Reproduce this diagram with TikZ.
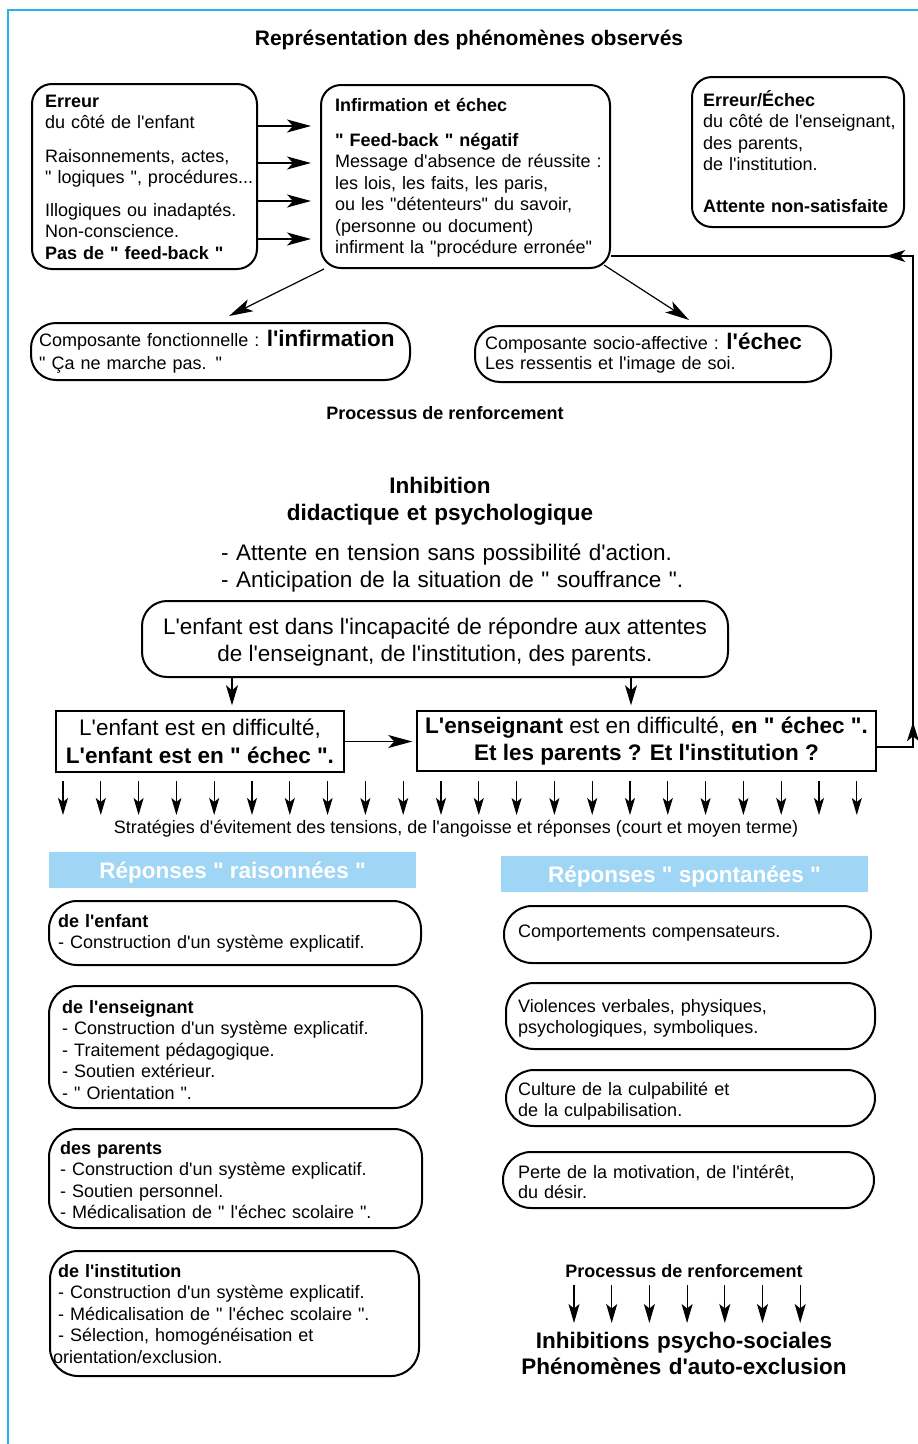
\documentclass[tikz,border=0pt]{standalone}
\usepackage{fontspec}
\setmainfont{Liberation Sans}[Ligatures=TeXOff]
\usetikzlibrary{arrows.meta,decorations.markings,calc}
\definecolor{framebl}{RGB}{40,180,235}
\definecolor{headbl}{RGB}{160,214,245}
\newcommand\fsA{\fontsize{18}{21.5}\selectfont}
\newcommand\fsB{\fontsize{22.5}{27.5}\selectfont}
\newcommand\fsT{\fontsize{21}{25}\selectfont}
\begin{document}
\begin{tikzpicture}[x=1pt,y=-1pt,
  rbox/.style={draw, line width=2pt, rounded corners=20pt, inner sep=0pt},
  sbox/.style={draw, line width=1.5pt, inner sep=0pt, font=\fsB, align=center},
  txt/.style={anchor=base west, align=left, inner sep=0pt, font=\fsA},
  ctxt/.style={anchor=base, align=center, inner sep=0pt},
  head/.style={fill=headbl, inner sep=0pt, text=white, font=\fsB\bfseries, text height=16pt, text depth=0pt},
  arr/.style={line width=1.2pt, -{Stealth[length=24pt,width=13pt,inset=6pt]}},
  arrM/.style={line width=1.2pt, -{Stealth[length=20pt,width=12pt,inset=5pt]}},
  arrD/.style={line width=1.2pt, -{Stealth[length=17pt,width=10pt,inset=4pt]}},
  arrB/.style={line width=1.2pt, -{Stealth[length=19pt,width=11pt,inset=4.5pt]}},
  fb/.style={line width=1.2pt, postaction={decorate}, decoration={markings,
     mark=at position 61pt with {\arrow{Stealth[length=19pt,width=12pt,inset=5pt]}},
     mark=at position 554pt with {\arrow{Stealth[length=19pt,width=12pt,inset=5pt]}}}}
]
\useasboundingbox (0,0) rectangle (918,1444);
% frame
\draw[framebl, line width=2pt] (918,10) -- (8,10) -- (8,1444);
% title
\node[ctxt, font=\fsT\bfseries] (title) at (469,45) {Représentation des phénomènes observés};

% top boxes
\node[rbox, minimum width=225pt, minimum height=185pt] (err) at (144.5,176.5) {};
\node[txt, text width=212pt] (errT) at (45,107) {\textbf{Erreur}\\du côté de l'enfant\\[12pt]Raisonnements, actes,\\" logiques ", procédures...\\[11pt]Illogiques ou inadaptés.\\Non-conscience.\\\textbf{Pas de " feed-back "}};

\node[rbox, minimum width=289pt, minimum height=183pt] (inf) at (465.5,176.5) {};
\node[txt, text width=290pt] (infT) at (335,111) {\textbf{Infirmation et échec}\\[13.5pt]\textbf{" Feed-back " négatif}\\Message d'absence de réussite :\\les lois, les faits, les paris,\\ou les "détenteurs" du savoir,\\(personne ou document)\\infirment la "procédure erronée"};

\node[rbox, minimum width=212pt, minimum height=150pt] (errE) at (798,152) {};
\node[txt, text width=205pt] (errET) at (703,106) {\textbf{Erreur/Échec}\\du côté de l'enseignant,\\des parents,\\de l'institution.\\[20.5pt]\textbf{Attente non-satisfaite}};

\foreach \dy in {50.5,13.5,-24.5,-62.5}
  \draw[arr, shorten >=9pt] ([yshift=\dy pt]err.east) -- ([yshift=\dy pt]inf.west);

% components
\node[rbox, rounded corners=25pt, minimum width=379pt, minimum height=57pt] (compL) at (220.5,351.5) {};
\node[txt, text width=370pt] (compLT) at (39,346) {Composante fonctionnelle :\hspace{-1.5pt} {\fsB\bfseries l'infirmation}\\[1.5pt]" Ça ne marche pas. "};
\node[rbox, rounded corners=25pt, minimum width=356pt, minimum height=56pt] (compR) at (653,354) {};
\node[txt, text width=345pt] (compRT) at (485,349) {Composante socio-affective :\hspace{-1.5pt} {\fsB\bfseries l'échec}\\[-1.5pt]Les ressentis et l'image de soi.};

\draw[arr] ([xshift=4pt]inf.south west) -- ([xshift=8.5pt,yshift=6pt]compL.north);
\draw[arr] ([xshift=-7pt,yshift=4pt]inf.south east) -- ([xshift=36pt,yshift=5pt]compR.north);

\node[ctxt, font=\fsA\bfseries] (proc1) at (445,419) {Processus de renforcement};

\node[ctxt, font=\fsB\bfseries, text width=420pt] (inhib) at (440,493) {Inhibition\\[-0.5pt]didactique et psychologique};
\node[txt, font=\fsB, text width=480pt] (att) at (221,560) {- Attente en tension sans possibilité d'action.\\- Anticipation de la situation de " souffrance ".};

% big box
\node[rbox, rounded corners=25pt, minimum width=586pt, minimum height=76pt, font=\fsB, align=center] (big) at (435,639) {\rule{0pt}{23pt}L'enfant est dans l'incapacité de répondre aux attentes\\de l'enseignant, de l'institution, des parents.};

\node[sbox, minimum width=288pt, minimum height=61pt] (enfR) at (200,741.5) {L'enfant est en difficulté,\\\textbf{L'enfant est en " échec ".}};
\node[sbox, minimum width=459pt, minimum height=60pt] (ensR) at (646.5,741) {\textbf{L'enseignant} est en difficulté, \textbf{en " échec ".}\\\textbf{Et les parents ? Et l'institution ?}};

\draw[arrM, shorten >=5pt] ([xshift=-203pt]big.south) -- ([xshift=-203pt]big.south |- enfR.north);
\draw[arrM, shorten >=5pt] ([xshift=196pt]big.south) -- ([xshift=196pt]big.south |- ensR.north);
\draw[arr, shorten >=4pt] (enfR.east) -- (enfR.east -| ensR.west);

% feedback loop
\coordinate (fbTop) at (913,256);
\draw[fb] ([yshift=-6pt]ensR.east) -| (fbTop) -- ([yshift=-79.5pt]inf.east);

% row of arrows
\foreach \i in {0,...,21}
  \draw[arrD] ({63+37.8*\i},781) -- ({63+37.8*\i},815);
\node[ctxt, font=\fsA] (strat) at (456,833) {Stratégies d'évitement des tensions, de l'angoisse et réponses (court et moyen terme)};

% headers
\node[head, minimum width=367pt, minimum height=36pt] (hRai) at (232.5,870) {Réponses " raisonnées "};
\node[head, minimum width=367pt, minimum height=36pt] (hSpo) at (684.5,874) {Réponses " spontanées "};

% left column
\node[rbox, rounded corners=28pt, minimum width=372pt, minimum height=64pt] (dEnf) at (235,933) {};
\node[txt, text width=355pt] (dEnfT) at (58,927) {\textbf{de l'enfant}\\- Construction d'un système explicatif.};
\node[rbox, rounded corners=28pt, minimum width=373pt, minimum height=122pt] (dEns) at (235.5,1047) {};
\node[txt, text width=355pt] (dEnsT) at (62,1013) {\textbf{de l'enseignant}\\- Construction d'un système explicatif.\\- Traitement pédagogique.\\- Soutien extérieur.\\- " Orientation ".};
\node[rbox, rounded corners=28pt, minimum width=373pt, minimum height=99pt] (dPar) at (235.5,1178.5) {};
\node[txt, text width=355pt] (dParT) at (60,1154) {\textbf{des parents}\\- Construction d'un système explicatif.\\- Soutien personnel.\\- Médicalisation de " l'échec scolaire ".};
\node[rbox, rounded corners=28pt, minimum width=369pt, minimum height=125pt] (dIns) at (234.5,1313.5) {};
\node[txt, text width=355pt] (dInsT) at (58,1277) {\textbf{de l'institution}\\- Construction d'un système explicatif.\\- Médicalisation de " l'échec scolaire ".\\- Sélection, homogénéisation et\\\hspace*{-5pt}orientation/exclusion.};

% right column
\node[rbox, rounded corners=28pt, minimum width=367pt, minimum height=57pt] (cComp) at (687.5,934.5) {};
\node[txt, text width=340pt] (cCompT) at (518,937) {Comportements compensateurs.};
\node[rbox, rounded corners=28pt, minimum width=369pt, minimum height=66pt] (cViol) at (690.5,1016) {};
\node[txt, text width=340pt] (cViolT) at (518,1012) {Violences verbales, physiques,\\psychologiques, symboliques.};
\node[rbox, rounded corners=28pt, minimum width=369pt, minimum height=56pt] (cCult) at (690.5,1098) {};
\node[txt, text width=340pt] (cCultT) at (518,1095) {Culture de la culpabilité et\\de la culpabilisation.};
\node[rbox, rounded corners=28pt, minimum width=371pt, minimum height=56pt] (cPerte) at (688.5,1180) {};
\node[txt, text width=340pt] (cPerteT) at (518,1178) {Perte de la motivation, de l'intérêt,\\[-1.5pt]du désir.};

% bottom
\node[ctxt, font=\fsA\bfseries] (proc2) at (684,1277) {Processus de renforcement};
\foreach \i in {0,...,6}
  \draw[arrB] ({574+37.7*\i},1285) -- ({574+37.7*\i},1323);
\node[ctxt, font=\fsB\bfseries, text width=420pt] (inhib2) at (684,1348) {Inhibitions psycho-sociales\\[-1pt]Phénomènes d'auto-exclusion};
\end{tikzpicture}
\end{document}
